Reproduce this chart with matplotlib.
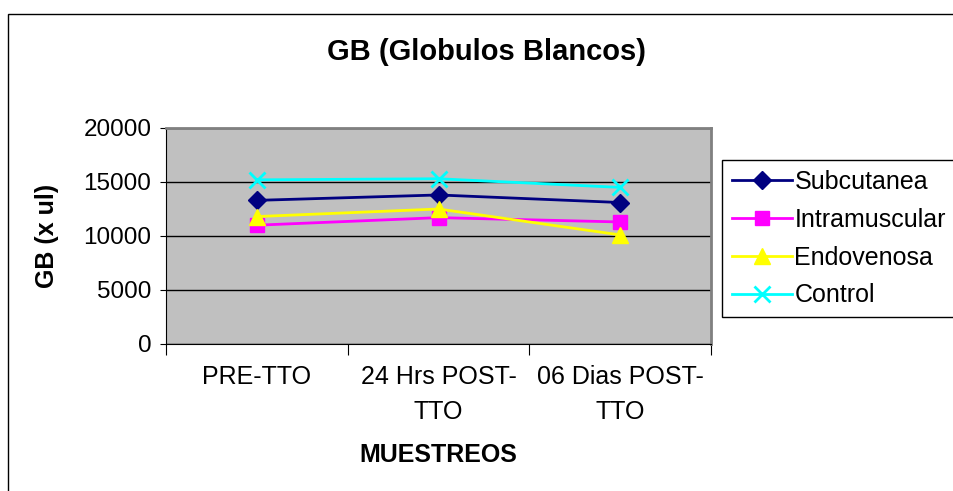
import matplotlib
matplotlib.use("Agg")
import matplotlib.pyplot as plt
from matplotlib.patches import Rectangle
import numpy as np

plt.rcParams['font.family'] = ['Liberation Sans', 'DejaVu Sans']

# datos
muestreos = ["PRE-TTO", "24 Hrs POST-\nTTO", "06 Dias POST-\nTTO"]
subcutanea = [13300, 13800, 13100]
intramuscular = [11000, 11700, 11300]
endovenosa = [11800, 12500, 10100]
control = [15200, 15300, 14500]

series = [
    ("Subcutanea", subcutanea, "#000080", "D", 9.5),
    ("Intramuscular", intramuscular, "#FF00FF", "s", 10),
    ("Endovenosa", endovenosa, "#FFFF00", "^", 11),
    ("Control", control, "#00FFFF", "x", 11),
]

fig = plt.figure(figsize=(9.54, 4.91), dpi=100)
ax = fig.add_axes([166/954, 1 - 344/491, (711 - 166)/954, (344 - 128)/491])
ax.set_facecolor("#C0C0C0")

x = np.arange(len(muestreos))
for nombre, valores, color, marca, tam in series:
    ax.plot(x, valores, color=color, marker=marca, markersize=tam, linewidth=2,
            markeredgewidth=2 if marca == "x" else 1, label=nombre, clip_on=False)

ax.set_xlim(-0.5, 2.5)
ax.set_ylim(0, 20000)
ax.set_yticks([0, 5000, 10000, 15000, 20000])
ax.yaxis.grid(True, color="black", linewidth=1)
ax.set_axisbelow(True)
ax.tick_params(axis="y", labelsize=17.5, length=4.5, direction="out", pad=6)

# ticks de categoria en los bordes, etiquetas centradas
ax.set_xticks([-0.5, 0.5, 1.5, 2.5])
ax.set_xticklabels([])
ax.set_xticks(x, minor=True)
ax.set_xticklabels(muestreos, minor=True, fontsize=18, linespacing=1.6)
ax.tick_params(axis="x", which="major", length=8, direction="out")
ax.tick_params(axis="x", which="minor", length=0, pad=15)

for lado in ["top", "right"]:
    ax.spines[lado].set_color("#808080")
    ax.spines[lado].set_linewidth(2)
for lado in ["left", "bottom"]:
    ax.spines[lado].set_color("black")

ax.set_ylabel("GB (x ul)", fontsize=18, fontweight="bold")
ax.yaxis.set_label_coords((47 - 166)/545, 0.5)
ax.yaxis.label.set_va("center")
ax.set_xlabel("MUESTREOS", fontsize=18, fontweight="bold")
ax.xaxis.set_label_coords(0.5, (344 - 455)/216)
ax.xaxis.label.set_va("center")

fig.text(487/954, 1 - 52/491, "GB (Globulos Blancos)", fontsize=21,
         fontweight="bold", ha="center", va="center")

leg = fig.legend(loc="upper left", bbox_to_anchor=(722/954, 1 - 160/491),
                 fontsize=18, frameon=True, fancybox=False, edgecolor="black",
                 framealpha=1, borderaxespad=0, handlelength=2.4,
                 handletextpad=0.1, labelspacing=0.55, borderpad=0.4)
leg.get_frame().set_linewidth(1)

# marco exterior del grafico
fig.patches.append(Rectangle((8/954, -0.05), 1.0, 1.05 - 14/491, transform=fig.transFigure,
                             fill=False, edgecolor="black", linewidth=1))

fig.savefig("out.png", dpi=100)
